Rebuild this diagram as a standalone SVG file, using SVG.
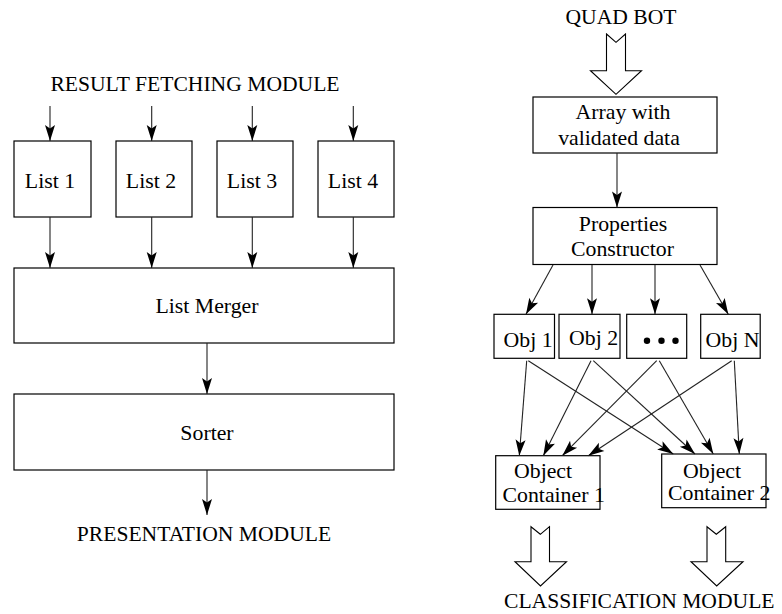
<svg xmlns="http://www.w3.org/2000/svg" width="782" height="614" viewBox="0 0 782 614">
<style>
  .box { fill: #ffffff; stroke: #000000; stroke-width: 1.2; }
  .t { font-family: "Liberation Serif", "Times New Roman", serif; font-size: 21.8px; fill: #000000; }
  .m { font-family: "Liberation Serif", "Times New Roman", serif; font-size: 21.6px; fill: #000000; }
  .c { text-anchor: middle; }
  .ln { fill: none; stroke: #222222; stroke-width: 1.1; }
  .blk { fill: #ffffff; stroke: #000000; stroke-width: 1.1; stroke-linejoin: miter; }
</style>
<defs>
  <marker id="ah" viewBox="-17 -6 18 12" refX="0" refY="0" markerWidth="18" markerHeight="12" markerUnits="userSpaceOnUse" orient="auto">
    <path d="M0,0 L-16,-5 L-12.5,0 L-16,5 Z" fill="#000000"/>
  </marker>
</defs>
<rect width="782" height="614" fill="#ffffff"/>

<!-- Left side labels -->
<text id="lbl-result" class="m c" x="195" y="91">RESULT FETCHING MODULE</text>
<text id="lbl-presentation" class="m c" x="204" y="541">PRESENTATION MODULE</text>

<g id="list1"><rect class="box" x="14" y="141" width="77" height="76"/><text class="t c" x="50" y="188">List 1</text></g>
<g id="list2"><rect class="box" x="116" y="141" width="76" height="76"/><text class="t c" x="151" y="188">List 2</text></g>
<g id="list3"><rect class="box" x="217" y="141" width="76" height="76"/><text class="t c" x="252" y="188">List 3</text></g>
<g id="list4"><rect class="box" x="318" y="141" width="76" height="76"/><text class="t c" x="353" y="188">List 4</text></g>
<g id="merger"><rect class="box" x="14" y="268" width="380" height="75"/><text class="t c" x="207" y="313">List Merger</text></g>
<g id="sorter"><rect class="box" x="14" y="394" width="380" height="76"/><text class="t c" x="207" y="440">Sorter</text></g>

<!-- Right side labels -->
<text id="lbl-quadbot" class="m c" x="621" y="24">QUAD BOT</text>
<text id="lbl-classification" class="m" x="504" y="608">CLASSIFICATION MODULE</text>

<g id="array"><rect class="box" x="533" y="97" width="184" height="56"/>
  <text class="t c" x="623" y="119">Array with</text>
  <text class="t c" x="619" y="144.5">validated data</text></g>
<g id="props"><rect class="box" x="533" y="207.5" width="184" height="57"/>
  <text class="t c" x="623" y="230.5">Properties</text>
  <text class="t c" x="622.5" y="256">Constructor</text></g>
<g id="obj1"><rect class="box" x="494" y="314.3" width="60.5" height="44"/><text class="t" x="503.5" y="347">Obj 1</text></g>
<g id="obj2"><rect class="box" x="559" y="314.3" width="61" height="44"/><text class="t" x="569" y="345">Obj 2</text></g>
<g id="objdots"><rect class="box" x="626.7" y="314.3" width="60" height="44"/>
  <circle cx="647" cy="340.7" r="3.2" fill="#000"/><circle cx="661.5" cy="340.7" r="3.2" fill="#000"/><circle cx="675.5" cy="340.7" r="3.2" fill="#000"/></g>
<g id="objn"><rect class="box" x="700.7" y="314.3" width="59.5" height="44"/><text class="t" x="705.5" y="347">Obj N</text></g>
<g id="oc1"><rect class="box" x="495.7" y="455.7" width="104.3" height="53.6"/>
  <text class="t" x="514" y="478.3">Object</text>
  <text class="t" x="502.5" y="501.7">Container 1</text></g>
<g id="oc2"><rect class="box" x="661.7" y="454" width="104.3" height="53.7"/>
  <text class="t" x="683" y="477.7">Object</text>
  <text class="t" x="668" y="500">Container 2</text></g>

<!-- Block arrows -->
<g id="blockarrows">
  <polygon class="blk" points="606.5,34 616,42.3 625.5,34 625.5,70.7 641.5,70.7 616,94.3 590.5,70.7 606.5,70.7"/>
  <polygon class="blk" points="531,526.7 540.3,534.3 549.5,526.7 549.5,561.7 566.5,561.7 540.5,586 515,561.7 531,561.7"/>
  <polygon class="blk" points="707,526.7 716.3,534.3 725.7,526.7 725.7,561.7 743,561.7 716.7,586 691,561.7 707,561.7"/>
</g>

<!-- Connectors -->
<g id="connectors">
  <line class="ln" x1="50" y1="106" x2="50" y2="141" marker-end="url(#ah)"/>
  <line class="ln" x1="151.7" y1="106" x2="151.7" y2="141" marker-end="url(#ah)"/>
  <line class="ln" x1="252.3" y1="106" x2="252.3" y2="141" marker-end="url(#ah)"/>
  <line class="ln" x1="353.3" y1="106" x2="353.3" y2="141" marker-end="url(#ah)"/>
  <line class="ln" x1="50" y1="217" x2="50" y2="268" marker-end="url(#ah)"/>
  <line class="ln" x1="151.7" y1="217" x2="151.7" y2="268" marker-end="url(#ah)"/>
  <line class="ln" x1="252.3" y1="217" x2="252.3" y2="268" marker-end="url(#ah)"/>
  <line class="ln" x1="353.3" y1="217" x2="353.3" y2="268" marker-end="url(#ah)"/>
  <line class="ln" x1="207" y1="343" x2="207" y2="394" marker-end="url(#ah)"/>
  <line class="ln" x1="207" y1="470" x2="207" y2="515" marker-end="url(#ah)"/>

  <line class="ln" x1="617" y1="153" x2="617" y2="207.5" marker-end="url(#ah)"/>
  <line class="ln" x1="553" y1="265" x2="526" y2="314.3" marker-end="url(#ah)"/>
  <line class="ln" x1="592" y1="265" x2="592" y2="314.3" marker-end="url(#ah)"/>
  <line class="ln" x1="655" y1="265" x2="655" y2="314.3" marker-end="url(#ah)"/>
  <line class="ln" x1="700" y1="265" x2="728.3" y2="314.3" marker-end="url(#ah)"/>

  <line class="ln" x1="526.7" y1="360.7" x2="519.3" y2="455.7" marker-end="url(#ah)"/>
  <line class="ln" x1="528.3" y1="360.7" x2="673.3" y2="454" marker-end="url(#ah)"/>
  <line class="ln" x1="591" y1="360.7" x2="543.3" y2="455.7" marker-end="url(#ah)"/>
  <line class="ln" x1="593.3" y1="360.7" x2="695" y2="454" marker-end="url(#ah)"/>
  <line class="ln" x1="656.7" y1="360.7" x2="562.3" y2="455.7" marker-end="url(#ah)"/>
  <line class="ln" x1="659.3" y1="360.7" x2="713.3" y2="454" marker-end="url(#ah)"/>
  <line class="ln" x1="731.7" y1="360.7" x2="588.3" y2="455.7" marker-end="url(#ah)"/>
  <line class="ln" x1="734.3" y1="360.7" x2="739.3" y2="454" marker-end="url(#ah)"/>
</g>
</svg>
